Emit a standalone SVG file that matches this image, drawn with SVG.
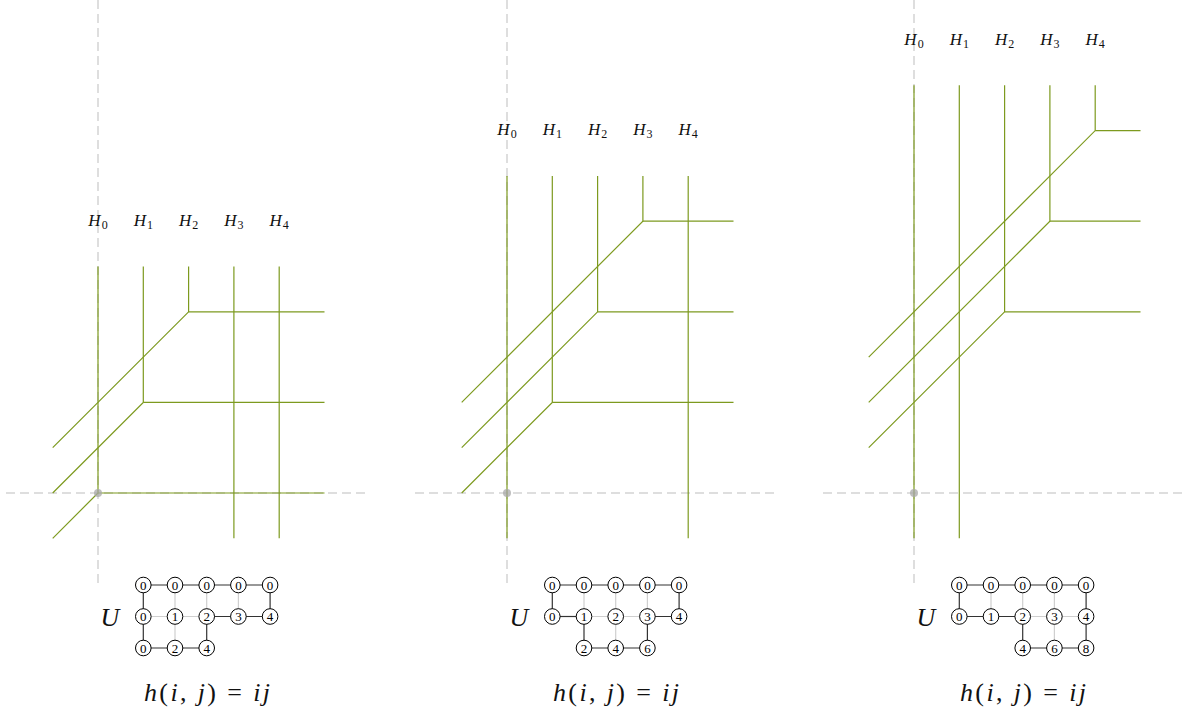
<svg xmlns="http://www.w3.org/2000/svg" width="1183" height="713" viewBox="0 0 1183 713">
<style>
.ax{stroke:#bdbdbd;stroke-width:1;stroke-dasharray:9 5;fill:none}
.ol{stroke:#7d9a1f;stroke-width:1.2;fill:none}
.dot{fill:#a8a8a8;fill-opacity:0.75}
.lab{font-family:"Liberation Serif",serif;font-size:17px;fill:#111}
.it{font-style:italic}
.sub{font-size:12px}
.ed{stroke:#333;stroke-width:1.2}
.el{stroke:#cfcfcf;stroke-width:1.2}
.nd{fill:#fff;stroke:#000;stroke-width:1}
.nt{font-family:"Liberation Serif",serif;font-size:13px;fill:#000;text-anchor:middle}
.big{font-family:"Liberation Serif",serif;font-size:26px;fill:#111}
</style>
<g id="axes">
<line class="ax" x1="98" y1="0" x2="98" y2="585"/>
<line class="ax" x1="6" y1="493" x2="367" y2="493"/>
<line class="ax" x1="507" y1="0" x2="507" y2="585"/>
<line class="ax" x1="415" y1="493" x2="775" y2="493"/>
<line class="ax" x1="914" y1="0" x2="914" y2="585"/>
<line class="ax" x1="823" y1="493" x2="1183" y2="493"/>
</g>
<g id="connectors">
<g id="panel1-lines" transform="translate(98,493)">
<polyline class="ol" points="-45.3,45.3 0,0 0,-226.5"/><line class="ol" x1="0" y1="0" x2="226.5" y2="0"/>
<polyline class="ol" points="-45.3,0 45.3,-90.6 45.3,-226.5"/><line class="ol" x1="45.3" y1="-90.6" x2="226.5" y2="-90.6"/>
<polyline class="ol" points="-45.3,-45.3 90.6,-181.2 90.6,-226.5"/><line class="ol" x1="90.6" y1="-181.2" x2="226.5" y2="-181.2"/>
<line class="ol" x1="135.9" y1="45.3" x2="135.9" y2="-226.5"/>
<line class="ol" x1="181.2" y1="45.3" x2="181.2" y2="-226.5"/>
</g>
<g id="panel2-lines" transform="translate(507,493)">
<line class="ol" x1="0" y1="45.3" x2="0" y2="-317.1"/>
<polyline class="ol" points="-45.3,0 45.3,-90.6 45.3,-317.1"/><line class="ol" x1="45.3" y1="-90.6" x2="226.5" y2="-90.6"/>
<polyline class="ol" points="-45.3,-45.3 90.6,-181.2 90.6,-317.1"/><line class="ol" x1="90.6" y1="-181.2" x2="226.5" y2="-181.2"/>
<polyline class="ol" points="-45.3,-90.6 135.9,-271.8 135.9,-317.1"/><line class="ol" x1="135.9" y1="-271.8" x2="226.5" y2="-271.8"/>
<line class="ol" x1="181.2" y1="45.3" x2="181.2" y2="-317.1"/>
</g>
<g id="panel3-lines" transform="translate(914,493)">
<line class="ol" x1="0" y1="45.3" x2="0" y2="-407.7"/>
<line class="ol" x1="45.3" y1="45.3" x2="45.3" y2="-407.7"/>
<polyline class="ol" points="-45.3,-45.3 90.6,-181.2 90.6,-407.7"/><line class="ol" x1="90.6" y1="-181.2" x2="226.5" y2="-181.2"/>
<polyline class="ol" points="-45.3,-90.6 135.9,-271.8 135.9,-407.7"/><line class="ol" x1="135.9" y1="-271.8" x2="226.5" y2="-271.8"/>
<polyline class="ol" points="-45.3,-135.9 181.2,-362.4 181.2,-407.7"/><line class="ol" x1="181.2" y1="-362.4" x2="226.5" y2="-362.4"/>
</g>
</g>
<g id="origins">
<circle class="dot" cx="98" cy="493" r="4"/>
<circle class="dot" cx="507" cy="493" r="4"/>
<circle class="dot" cx="914" cy="493" r="4"/>
</g>
<g id="labels">
<g id="panel1-labels" class="lab" text-anchor="middle">
<text x="98" y="226"><tspan class="it">H</tspan><tspan class="sub" dx="1" dy="3">0</tspan></text>
<text x="143.3" y="226"><tspan class="it">H</tspan><tspan class="sub" dx="1" dy="3">1</tspan></text>
<text x="188.6" y="226"><tspan class="it">H</tspan><tspan class="sub" dx="1" dy="3">2</tspan></text>
<text x="233.9" y="226"><tspan class="it">H</tspan><tspan class="sub" dx="1" dy="3">3</tspan></text>
<text x="279.2" y="226"><tspan class="it">H</tspan><tspan class="sub" dx="1" dy="3">4</tspan></text>
</g>
<g id="panel2-labels" class="lab" text-anchor="middle">
<text x="507" y="135.4"><tspan class="it">H</tspan><tspan class="sub" dx="1" dy="3">0</tspan></text>
<text x="552.3" y="135.4"><tspan class="it">H</tspan><tspan class="sub" dx="1" dy="3">1</tspan></text>
<text x="597.6" y="135.4"><tspan class="it">H</tspan><tspan class="sub" dx="1" dy="3">2</tspan></text>
<text x="642.9" y="135.4"><tspan class="it">H</tspan><tspan class="sub" dx="1" dy="3">3</tspan></text>
<text x="688.2" y="135.4"><tspan class="it">H</tspan><tspan class="sub" dx="1" dy="3">4</tspan></text>
</g>
<g id="panel3-labels" class="lab" text-anchor="middle">
<text x="914" y="44.8"><tspan class="it">H</tspan><tspan class="sub" dx="1" dy="3">0</tspan></text>
<text x="959.3" y="44.8"><tspan class="it">H</tspan><tspan class="sub" dx="1" dy="3">1</tspan></text>
<text x="1004.6" y="44.8"><tspan class="it">H</tspan><tspan class="sub" dx="1" dy="3">2</tspan></text>
<text x="1049.9" y="44.8"><tspan class="it">H</tspan><tspan class="sub" dx="1" dy="3">3</tspan></text>
<text x="1095.2" y="44.8"><tspan class="it">H</tspan><tspan class="sub" dx="1" dy="3">4</tspan></text>
</g>
</g>
<g id="graph1">
<g id="graph1-edges">
<line class="el" x1="143.3" y1="616.5" x2="206.7" y2="616.5"/>
<line class="el" x1="175" y1="585" x2="175" y2="616.5"/>
<line class="el" x1="206.7" y1="585" x2="206.7" y2="616.5"/>
<line class="el" x1="238.4" y1="585" x2="238.4" y2="616.5"/>
<line class="el" x1="175" y1="616.5" x2="175" y2="648"/>
<line class="ed" x1="143.3" y1="585" x2="270.1" y2="585"/>
<line class="ed" x1="206.7" y1="616.5" x2="270.1" y2="616.5"/>
<line class="ed" x1="143.3" y1="648" x2="206.7" y2="648"/>
<line class="ed" x1="143.3" y1="585" x2="143.3" y2="648"/>
<line class="ed" x1="270.1" y1="585" x2="270.1" y2="616.5"/>
<line class="ed" x1="206.7" y1="616.5" x2="206.7" y2="648"/>
</g>
<g id="g1n00"><circle class="nd" cx="143.3" cy="585" r="7.8"/><text class="nt" x="143.3" y="589.5">0</text></g>
<g id="g1n01"><circle class="nd" cx="175" cy="585" r="7.8"/><text class="nt" x="175" y="589.5">0</text></g>
<g id="g1n02"><circle class="nd" cx="206.7" cy="585" r="7.8"/><text class="nt" x="206.7" y="589.5">0</text></g>
<g id="g1n03"><circle class="nd" cx="238.4" cy="585" r="7.8"/><text class="nt" x="238.4" y="589.5">0</text></g>
<g id="g1n04"><circle class="nd" cx="270.1" cy="585" r="7.8"/><text class="nt" x="270.1" y="589.5">0</text></g>
<g id="g1n10"><circle class="nd" cx="143.3" cy="616.5" r="7.8"/><text class="nt" x="143.3" y="621">0</text></g>
<g id="g1n11"><circle class="nd" cx="175" cy="616.5" r="7.8"/><text class="nt" x="175" y="621">1</text></g>
<g id="g1n12"><circle class="nd" cx="206.7" cy="616.5" r="7.8"/><text class="nt" x="206.7" y="621">2</text></g>
<g id="g1n13"><circle class="nd" cx="238.4" cy="616.5" r="7.8"/><text class="nt" x="238.4" y="621">3</text></g>
<g id="g1n14"><circle class="nd" cx="270.1" cy="616.5" r="7.8"/><text class="nt" x="270.1" y="621">4</text></g>
<g id="g1n20"><circle class="nd" cx="143.3" cy="648" r="7.8"/><text class="nt" x="143.3" y="652.5">0</text></g>
<g id="g1n21"><circle class="nd" cx="175" cy="648" r="7.8"/><text class="nt" x="175" y="652.5">2</text></g>
<g id="g1n22"><circle class="nd" cx="206.7" cy="648" r="7.8"/><text class="nt" x="206.7" y="652.5">4</text></g>
<text class="big it" x="110" y="626" text-anchor="middle">U</text>
<text class="big" x="144" y="701" textLength="126" lengthAdjust="spacing"><tspan class="it">h</tspan>(<tspan class="it">i</tspan>, <tspan class="it">j</tspan>) = <tspan class="it">ij</tspan></text>
</g>
<g id="graph2" transform="translate(409,0)">
<g id="graph2-edges">
<line class="el" x1="175" y1="616.5" x2="238.4" y2="616.5"/>
<line class="el" x1="175" y1="585" x2="175" y2="616.5"/>
<line class="el" x1="206.7" y1="585" x2="206.7" y2="616.5"/>
<line class="el" x1="238.4" y1="585" x2="238.4" y2="616.5"/>
<line class="el" x1="206.7" y1="616.5" x2="206.7" y2="648"/>
<line class="ed" x1="143.3" y1="585" x2="270.1" y2="585"/>
<line class="ed" x1="143.3" y1="616.5" x2="175" y2="616.5"/>
<line class="ed" x1="238.4" y1="616.5" x2="270.1" y2="616.5"/>
<line class="ed" x1="175" y1="648" x2="238.4" y2="648"/>
<line class="ed" x1="143.3" y1="585" x2="143.3" y2="616.5"/>
<line class="ed" x1="270.1" y1="585" x2="270.1" y2="616.5"/>
<line class="ed" x1="175" y1="616.5" x2="175" y2="648"/>
<line class="ed" x1="238.4" y1="616.5" x2="238.4" y2="648"/>
</g>
<g id="g2n00"><circle class="nd" cx="143.3" cy="585" r="7.8"/><text class="nt" x="143.3" y="589.5">0</text></g>
<g id="g2n01"><circle class="nd" cx="175" cy="585" r="7.8"/><text class="nt" x="175" y="589.5">0</text></g>
<g id="g2n02"><circle class="nd" cx="206.7" cy="585" r="7.8"/><text class="nt" x="206.7" y="589.5">0</text></g>
<g id="g2n03"><circle class="nd" cx="238.4" cy="585" r="7.8"/><text class="nt" x="238.4" y="589.5">0</text></g>
<g id="g2n04"><circle class="nd" cx="270.1" cy="585" r="7.8"/><text class="nt" x="270.1" y="589.5">0</text></g>
<g id="g2n10"><circle class="nd" cx="143.3" cy="616.5" r="7.8"/><text class="nt" x="143.3" y="621">0</text></g>
<g id="g2n11"><circle class="nd" cx="175" cy="616.5" r="7.8"/><text class="nt" x="175" y="621">1</text></g>
<g id="g2n12"><circle class="nd" cx="206.7" cy="616.5" r="7.8"/><text class="nt" x="206.7" y="621">2</text></g>
<g id="g2n13"><circle class="nd" cx="238.4" cy="616.5" r="7.8"/><text class="nt" x="238.4" y="621">3</text></g>
<g id="g2n14"><circle class="nd" cx="270.1" cy="616.5" r="7.8"/><text class="nt" x="270.1" y="621">4</text></g>
<g id="g2n21"><circle class="nd" cx="175" cy="648" r="7.8"/><text class="nt" x="175" y="652.5">2</text></g>
<g id="g2n22"><circle class="nd" cx="206.7" cy="648" r="7.8"/><text class="nt" x="206.7" y="652.5">4</text></g>
<g id="g2n23"><circle class="nd" cx="238.4" cy="648" r="7.8"/><text class="nt" x="238.4" y="652.5">6</text></g>
<text class="big it" x="110" y="626" text-anchor="middle">U</text>
<text class="big" x="144" y="701" textLength="126" lengthAdjust="spacing"><tspan class="it">h</tspan>(<tspan class="it">i</tspan>, <tspan class="it">j</tspan>) = <tspan class="it">ij</tspan></text>
</g>
<g id="graph3" transform="translate(816,0)">
<g id="graph3-edges">
<line class="el" x1="206.7" y1="616.5" x2="270.1" y2="616.5"/>
<line class="el" x1="175" y1="585" x2="175" y2="616.5"/>
<line class="el" x1="206.7" y1="585" x2="206.7" y2="616.5"/>
<line class="el" x1="238.4" y1="585" x2="238.4" y2="616.5"/>
<line class="el" x1="238.4" y1="616.5" x2="238.4" y2="648"/>
<line class="ed" x1="143.3" y1="585" x2="270.1" y2="585"/>
<line class="ed" x1="143.3" y1="616.5" x2="206.7" y2="616.5"/>
<line class="ed" x1="206.7" y1="648" x2="270.1" y2="648"/>
<line class="ed" x1="143.3" y1="585" x2="143.3" y2="616.5"/>
<line class="ed" x1="270.1" y1="585" x2="270.1" y2="648"/>
<line class="ed" x1="206.7" y1="616.5" x2="206.7" y2="648"/>
</g>
<g id="g3n00"><circle class="nd" cx="143.3" cy="585" r="7.8"/><text class="nt" x="143.3" y="589.5">0</text></g>
<g id="g3n01"><circle class="nd" cx="175" cy="585" r="7.8"/><text class="nt" x="175" y="589.5">0</text></g>
<g id="g3n02"><circle class="nd" cx="206.7" cy="585" r="7.8"/><text class="nt" x="206.7" y="589.5">0</text></g>
<g id="g3n03"><circle class="nd" cx="238.4" cy="585" r="7.8"/><text class="nt" x="238.4" y="589.5">0</text></g>
<g id="g3n04"><circle class="nd" cx="270.1" cy="585" r="7.8"/><text class="nt" x="270.1" y="589.5">0</text></g>
<g id="g3n10"><circle class="nd" cx="143.3" cy="616.5" r="7.8"/><text class="nt" x="143.3" y="621">0</text></g>
<g id="g3n11"><circle class="nd" cx="175" cy="616.5" r="7.8"/><text class="nt" x="175" y="621">1</text></g>
<g id="g3n12"><circle class="nd" cx="206.7" cy="616.5" r="7.8"/><text class="nt" x="206.7" y="621">2</text></g>
<g id="g3n13"><circle class="nd" cx="238.4" cy="616.5" r="7.8"/><text class="nt" x="238.4" y="621">3</text></g>
<g id="g3n14"><circle class="nd" cx="270.1" cy="616.5" r="7.8"/><text class="nt" x="270.1" y="621">4</text></g>
<g id="g3n22"><circle class="nd" cx="206.7" cy="648" r="7.8"/><text class="nt" x="206.7" y="652.5">4</text></g>
<g id="g3n23"><circle class="nd" cx="238.4" cy="648" r="7.8"/><text class="nt" x="238.4" y="652.5">6</text></g>
<g id="g3n24"><circle class="nd" cx="270.1" cy="648" r="7.8"/><text class="nt" x="270.1" y="652.5">8</text></g>
<text class="big it" x="110" y="626" text-anchor="middle">U</text>
<text class="big" x="144" y="701" textLength="126" lengthAdjust="spacing"><tspan class="it">h</tspan>(<tspan class="it">i</tspan>, <tspan class="it">j</tspan>) = <tspan class="it">ij</tspan></text>
</g>
</svg>
